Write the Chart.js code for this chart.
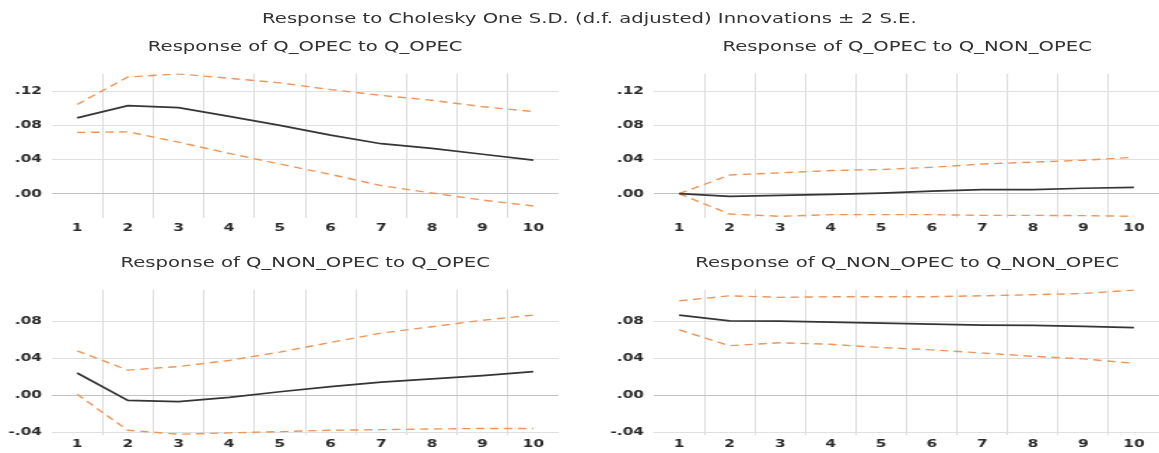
<!DOCTYPE html>
<html>
<head>
<meta charset="utf-8">
<script src="https://cdn.jsdelivr.net/npm/chart.js@4.4.1/dist/chart.umd.min.js"></script>
<style>
  html, body { margin: 0; padding: 0; background: #fff; overflow: hidden; }
  body { width: 1159px; height: 453px; position: relative; }
  /* the reference picture is stretched sideways, so the whole page is too */
  .page { position: absolute; left: 0; top: 0; width: 830px; height: 453px;
          transform: scaleX(1.4); transform-origin: 0 0;
          font-family: "DejaVu Sans", sans-serif; color: #333; }
  .title { position: absolute; height: 16px; line-height: 16px; font-size: 14px;
           text-align: center; white-space: nowrap; }
  canvas { position: absolute; }
</style>
</head>
<body>
<div class="page">
  <div class="title" style="left:0;width:842px;top:10px">Response to Cholesky One S.D. (d.f. adjusted) Innovations ± 2 S.E.</div>
  <div class="title" style="left:37px;width:362px;top:38px">Response of Q_OPEC to Q_OPEC</div>
  <div class="title" style="left:467px;width:362px;top:38px">Response of Q_OPEC to Q_NON_OPEC</div>
  <div class="title" style="left:37px;width:362px;top:254px">Response of Q_NON_OPEC to Q_OPEC</div>
  <div class="title" style="left:467px;width:362px;top:254px">Response of Q_NON_OPEC to Q_NON_OPEC</div>
  <canvas id="c1" width="400" height="180" style="left:0;top:60px"></canvas>
  <canvas id="c2" width="399" height="180" style="left:430px;top:60px"></canvas>
  <canvas id="c3" width="400" height="177" style="left:0;top:276px"></canvas>
  <canvas id="c4" width="399" height="177" style="left:430px;top:276px"></canvas>
</div>
<script>
const steps = ["1", "2", "3", "4", "5", "6", "7", "8", "9", "10"];
const topTicks = [0, 0.04, 0.08, 0.12];
const bottomTicks = [-0.04, 0, 0.04, 0.08];

// Q_OPEC to Q_OPEC
const opecOpec   = [0.0887, 0.1030, 0.1007, 0.0905, 0.0800, 0.0686, 0.0585, 0.0530, 0.0462, 0.0392];
const opecOpecHi = [0.1044, 0.1365, 0.1402, 0.1350, 0.1297, 0.1218, 0.1150, 0.1093, 0.1018, 0.0961];
const opecOpecLo = [0.0716, 0.0724, 0.0603, 0.0471, 0.0347, 0.0226, 0.0094, 0.0008, -0.0075, -0.0143];

// Q_OPEC to Q_NON_OPEC
const opecNon   = [0, -0.0030, -0.0020, -0.0008, 0.0008, 0.0030, 0.0049, 0.0049, 0.0064, 0.0075];
const opecNonHi = [0, 0.0219, 0.0245, 0.0271, 0.0283, 0.0309, 0.0347, 0.0369, 0.0392, 0.0426];
const opecNonLo = [0, -0.0238, -0.0264, -0.0245, -0.0245, -0.0245, -0.0253, -0.0253, -0.0256, -0.0264];

// Q_NON_OPEC to Q_OPEC
const nonOpec   = [0.0241, -0.0056, -0.0070, -0.0024, 0.0038, 0.0094, 0.0143, 0.0178, 0.0213, 0.0255];
const nonOpecHi = [0.0482, 0.0272, 0.0311, 0.0377, 0.0468, 0.0572, 0.0674, 0.0743, 0.0813, 0.0869];
const nonOpecLo = [0.0010, -0.0380, -0.0422, -0.0408, -0.0394, -0.0380, -0.0373, -0.0366, -0.0360, -0.0360];

// Q_NON_OPEC to Q_NON_OPEC
const nonNon   = [0.0869, 0.0806, 0.0803, 0.0792, 0.0782, 0.0771, 0.0761, 0.0757, 0.0747, 0.0733];
const nonNonHi = [0.1023, 0.1078, 0.1061, 0.1068, 0.1068, 0.1068, 0.1078, 0.1089, 0.1103, 0.1140];
const nonNonLo = [0.0709, 0.0537, 0.0569, 0.0552, 0.0517, 0.0492, 0.0457, 0.0422, 0.0394, 0.0346];

const tickFont = { family: "DejaVu Sans", size: 11, weight: "bold" };

// .12 / -.04 style labels
const fmt = (v) => {
  const s = Math.abs(v).toFixed(2).replace(/^0/, "");
  return v < 0 ? "-" + s : s;
};

const drawPanel = (id, mid, hi, lo, tickVals, yMin, yMax, padTop, xHeight, xPad) => {
  new Chart(document.getElementById(id), {
    type: "line",
    data: {
      labels: steps,
      datasets: [
        { data: mid, borderColor: "#353535", borderWidth: 1.7 },
        { data: hi, borderColor: "#ee955a", borderWidth: 1.4, borderDash: [6, 4] },
        { data: lo, borderColor: "#ee955a", borderWidth: 1.4, borderDash: [6, 4] },
      ],
    },
    options: {
      responsive: false,
      animation: false,
      devicePixelRatio: 1,
      layout: { padding: { top: padTop, right: 1, left: 0, bottom: 0 } },
      elements: { point: { radius: 0 }, line: { tension: 0 } },
      plugins: {
        legend: { display: false },
        tooltip: { enabled: false },
      },
      scales: {
        x: {
          offset: true,
          border: { display: false },
          grid: {
            offset: true,
            drawTicks: false,
            lineWidth: 1,
            color: (ctx) => (ctx.index === undefined || ctx.index === 0 ? "rgba(0,0,0,0)" : "#dcdcdc"),
          },
          ticks: { padding: xPad, color: "#2a2a2a", font: tickFont, maxRotation: 0 },
          afterFit: (s) => { s.height = xHeight; },
        },
        y: {
          min: yMin,
          max: yMax,
          border: { display: false },
          grid: {
            drawTicks: false,
            color: (ctx) => (ctx.tick && ctx.tick.value === 0 ? "#c2c2c2" : "#e0e0e0"),
          },
          ticks: { padding: 7, color: "#2a2a2a", font: tickFont, callback: (v) => fmt(v) },
          afterBuildTicks: (s) => { s.ticks = tickVals.map((v) => ({ value: v })); },
          afterFit: (s) => { s.width = 37; },
        },
      },
    },
  });
};

drawPanel("c1", opecOpec, opecOpecHi, opecOpecLo, topTicks, -0.0284, 0.1405, 10, 22, 4);
drawPanel("c2", opecNon, opecNonHi, opecNonLo, topTicks, -0.0284, 0.1405, 10, 22, 4);
drawPanel("c3", nonOpec, nonOpecHi, nonOpecLo, bottomTicks, -0.0431, 0.1145, 8.5, 18, 3);
drawPanel("c4", nonNon, nonNonHi, nonNonLo, bottomTicks, -0.0431, 0.1145, 8.5, 18, 3);
</script>
</body>
</html>
